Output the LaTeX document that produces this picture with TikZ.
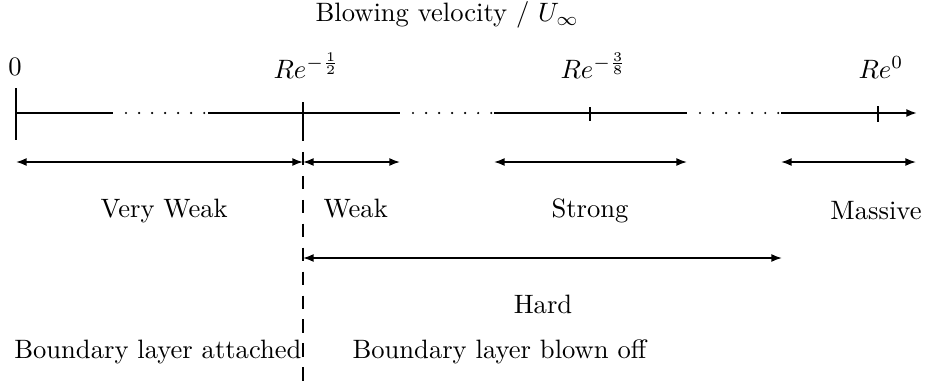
\documentclass[tikz,border=0pt]{standalone}
\usetikzlibrary{arrows.meta}
\begin{document}
\begin{tikzpicture}[x=0.376pt,y=-0.376pt,
  axisline/.style={line width=0.7pt},
  dotline/.style={line width=0.9pt,line cap=round,dash pattern=on 0pt off 4.9pt},
  rangearrow/.style={line width=0.6pt,{Latex[length=4pt,width=3pt]}-{Latex[length=4pt,width=3pt]}},
  lbl/.style={anchor=base,inner sep=0pt}]
\useasboundingbox (0,0) rectangle (926,391);
% title
\node[lbl,anchor=base west] (title) at (315,22) {Blowing velocity / $U_\infty$};
% axis coordinates
\coordinate (a0) at (16,113);
\coordinate (a1) at (113,113);
\coordinate (a2) at (208,113);
\coordinate (a3) at (400,113);
\coordinate (a4) at (494,113);
\coordinate (a5) at (687,113);
\coordinate (a6) at (781,113);
\coordinate (aend) at (917,113);
\coordinate (t0top) at (16,88);
\coordinate (t0bot) at (16,140);
\coordinate (t1top) at (303,102);
\coordinate (t1bot) at (303,128);
\coordinate (dbot) at (303,391);
\coordinate (t2top) at (590,107);
\coordinate (t2bot) at (590,121);
\coordinate (t3top) at (878,106);
\coordinate (t3bot) at (878,122);
% axis
\draw[axisline] (a0) -- (a1);
\draw[dotline] ([xshift=4.9pt]a1) -- (a2);
\draw[axisline] (a2) -- (a3);
\draw[dotline] ([xshift=4.9pt]a3) -- (a4);
\draw[axisline] (a4) -- (a5);
\draw[dotline] ([xshift=4.9pt]a5) -- (a6);
\draw[axisline,-{Latex[length=4pt,width=3pt]}] (a6) -- (aend);
% ticks
\draw[axisline] (t0top) -- (t0bot);
\draw[line width=0.6pt] (t1top) -- (t1bot);
\draw[line width=0.5pt,dash pattern=on 5pt off 4pt] (t1bot) -- (dbot);
\draw[line width=0.5pt] (t2top) -- (t2bot);
\draw[line width=0.6pt] (t3top) -- (t3bot);
% tick labels
\node[lbl] (l0) at (15,75) {0};
\node[lbl,anchor=base west] (l1) at (273,78) {$Re^{-\frac{1}{2}}$};
\node[lbl,anchor=base west] (l2) at (560,78) {$Re^{-\frac{3}{8}}$};
\node[lbl,anchor=base west] (l3) at (858,78) {$Re^{0}$};
% range arrows
\coordinate (vw1) at (16,162);
\coordinate (vw2) at (303,162);
\coordinate (w1) at (303,162);
\coordinate (w2) at (400,162);
\coordinate (s1) at (494,162);
\coordinate (s2) at (687,162);
\coordinate (m1) at (781,162);
\coordinate (m2) at (916,162);
\coordinate (h1) at (303,258);
\coordinate (h2) at (782,258);
\draw[rangearrow] (vw1) -- (vw2);
\draw[rangearrow] (w1) -- (w2);
\draw[rangearrow] (s1) -- (s2);
\draw[rangearrow] (m1) -- (m2);
\draw[rangearrow] (h1) -- (h2);
% range labels
\node[lbl,anchor=base west] (verywk) at (100,217) {Very Weak};
\node[lbl,anchor=base west] (weak) at (323,217) {Weak};
\node[lbl] (strong) at (590,217) {Strong};
\node[lbl] (massive) at (876,219) {Massive};
\node[lbl] (hard) at (543,313) {Hard};
\node[lbl,anchor=base east] (att) at (302,358) {Boundary layer attached};
\node[lbl,anchor=base west] (blown) at (352,358) {Boundary layer blown off};
\end{tikzpicture}
\end{document}
